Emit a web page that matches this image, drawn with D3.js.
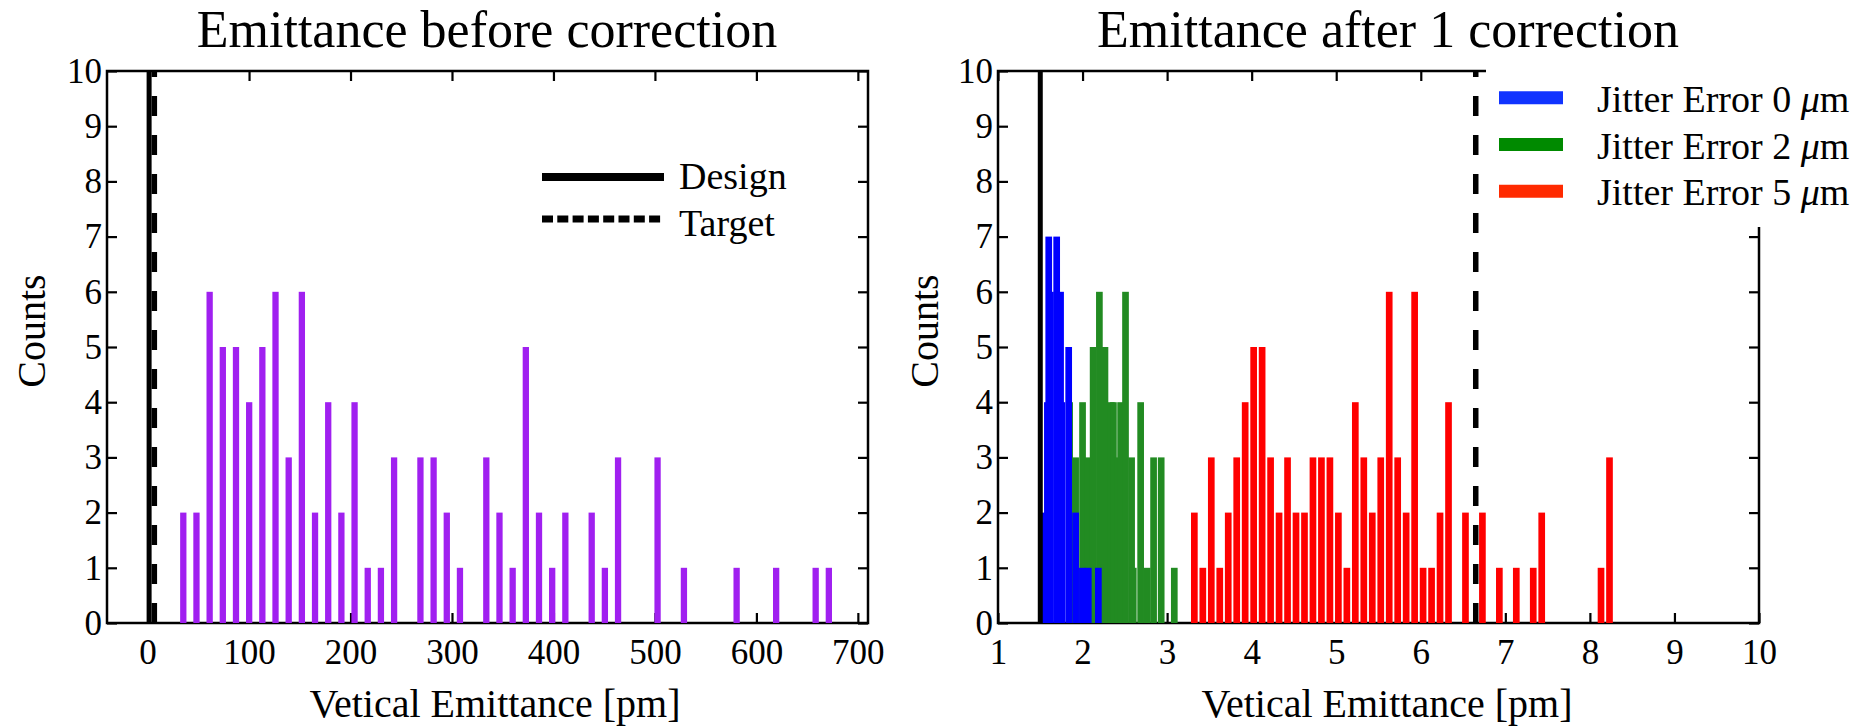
<!DOCTYPE html>
<html>
<head>
<meta charset="utf-8">
<script src="https://cdn.jsdelivr.net/npm/d3@7"></script>
<style>
  body { margin: 0; background: #fff; }
  text { font-family: "Liberation Serif", "Times New Roman", serif; fill: #000; }
</style>
</head>
<body>
<div id="chart"></div>
<script>
// ---- data ----
// left panel: 50-bin histogram before correction [pm]
const beforeRange = [28.7, 677.9];
const beforeCounts = [2, 2, 6, 5, 5, 4, 5, 6, 3, 6, 2, 4, 2, 4, 1, 1, 3, 0, 3, 3,
                      2, 1, 0, 3, 2, 1, 5, 2, 1, 2, 0, 2, 1, 3, 0, 0, 3, 0, 1, 0,
                      0, 0, 1, 0, 0, 1, 0, 0, 1, 1];

// right panel: visible bars of the overlapping histograms [pm]
const jitter0Centers = [1.54, 1.584, 1.600, 1.62, 1.694, 1.740, 1.756, 1.836, 1.918, 1.998, 2.068, 2.187];
const jitter0Counts  = [2, 4, 7, 6, 7, 6, 4, 5, 2, 1, 1, 1];

const jitter2Centers = [1.847, 1.918, 2.000, 2.060, 2.125, 2.199, 2.265, 2.340, 2.365, 2.420, 2.450,
                        2.508, 2.580, 2.600, 2.687, 2.765, 2.840, 2.930, 3.085];
const jitter2Counts  = [4, 3, 4, 3, 5, 6, 5, 4, 4, 3, 4, 6, 3, 1, 4, 1, 3, 3, 1];

const jitter5Range = [3.272, 8.282];
const jitter5Counts = [2, 1, 3, 1, 2, 3, 4, 5, 5, 3, 2, 3, 2, 2, 3, 3, 3, 2, 1, 4,
                       3, 2, 3, 6, 3, 2, 6, 1, 1, 2, 4, 0, 2, 0, 2, 0, 1, 0, 1, 0,
                       1, 2, 0, 0, 0, 0, 0, 0, 1, 3];

const designEmit = 1.5;
const targetEmit = 6.65;

const beforeTicks = [0, 100, 200, 300, 400, 500, 600, 700];
const afterTicks = [1, 2, 3, 4, 5, 6, 7, 8, 9, 10];
const countTicks = [0, 1, 2, 3, 4, 5, 6, 7, 8, 9, 10];

const legendJitter = ["Jitter Error 0 ", "Jitter Error 2 ", "Jitter Error 5 "];
const legendColors = ["#1033ff", "#008a00", "#ff2a00"];

// ---- drawing ----
const svg = d3.select('#chart')
    .append('svg')
    .attr('width', 1866)
    .attr('height', 726);

const plotTop = 71, plotBottom = 623;

function binCenters(range, n) {
    const w = (range[1] - range[0]) / n;
    return d3.range(n).map(i => range[0] + (i + 0.5) * w);
}

function drawPanel(opts) {
    const x = d3.scaleLinear().domain(opts.domain).range(opts.range);
    const y = d3.scaleLinear().domain([0, 10]).range([plotBottom, plotTop]);
    const g = svg.append('g');

    // ticks pointing inwards on all four sides
    g.append('g')
        .attr('transform', `translate(0, ${plotBottom})`)
        .call(d3.axisBottom(x).tickValues(opts.ticks).tickSize(-10).tickPadding(16).tickSizeOuter(0))
        .call(a => a.select('.domain').remove())
        .call(a => a.selectAll('line').attr('stroke-width', 2.2))
        .call(a => a.selectAll('text').style('font-size', '35px'));

    g.append('g')
        .attr('transform', `translate(0, ${plotTop})`)
        .call(d3.axisTop(x).tickValues(opts.ticks).tickSize(-10).tickFormat(''))
        .call(a => a.select('.domain').remove())
        .call(a => a.selectAll('line').attr('stroke-width', 2.2));

    g.append('g')
        .attr('transform', `translate(${opts.range[0]}, 0)`)
        .call(d3.axisLeft(y).tickValues(countTicks).tickSize(-10).tickPadding(5))
        .call(a => a.select('.domain').remove())
        .call(a => a.selectAll('line').attr('stroke-width', 2.2))
        .call(a => a.selectAll('text').style('font-size', '35px'));

    g.append('g')
        .attr('transform', `translate(${opts.range[1]}, 0)`)
        .call(d3.axisRight(y).tickValues(countTicks).tickSize(-10).tickFormat(''))
        .call(a => a.select('.domain').remove())
        .call(a => a.selectAll('line').attr('stroke-width', 2.2));

    // axis text: drop d3's default sans-serif so the page font applies
    g.selectAll('g').attr('font-family', null);

    // frame
    g.append('rect')
        .attr('x', opts.range[0])
        .attr('y', plotTop)
        .attr('width', opts.range[1] - opts.range[0])
        .attr('height', plotBottom - plotTop)
        .attr('fill', 'none')
        .attr('stroke', '#000')
        .attr('stroke-width', 2.5);

    // bars
    opts.series.forEach(s => {
        g.append('g').selectAll('rect')
            .data(d3.zip(s.centers, s.counts).filter(d => d[1] > 0))
            .join('rect')
            .attr('x', d => x(d[0] - s.width / 2))
            .attr('width', d => x(d[0] + s.width / 2) - x(d[0] - s.width / 2))
            .attr('y', d => y(d[1]))
            .attr('height', d => y(0) - y(d[1]))
            .attr('fill', s.color);
    });

    // design / target lines
    const vline = d3.line().x(d => x(d[0])).y(d => y(d[1]));
    g.append('path')
        .attr('d', vline([[targetEmit, 0], [targetEmit, 10]]))
        .attr('stroke', '#000')
        .attr('stroke-width', 5.5)
        .attr('stroke-dasharray', '20,19')
        .attr('fill', 'none');
    g.append('path')
        .attr('d', vline([[designEmit, 0], [designEmit, 10]]))
        .attr('stroke', '#000')
        .attr('stroke-width', 5)
        .attr('fill', 'none');

    // title and labels
    svg.append('text')
        .attr('x', opts.titleX)
        .attr('y', 47)
        .attr('text-anchor', 'middle')
        .style('font-size', '52px')
        .text(opts.title);

    svg.append('text')
        .attr('x', opts.xLabelX)
        .attr('y', 717)
        .attr('text-anchor', 'middle')
        .style('font-size', '40px')
        .text('Vetical Emittance [pm]');

    svg.append('text')
        .attr('transform', `translate(${opts.yLabelX}, 331) rotate(-90)`)
        .attr('text-anchor', 'middle')
        .style('font-size', '40px')
        .text('Counts');

    return g;
}

// left panel
drawPanel({
    domain: [-40, 710],
    range: [107, 868],
    ticks: beforeTicks,
    title: 'Emittance before correction',
    titleX: 487,
    xLabelX: 495,
    yLabelX: 45,
    series: [
        { centers: binCenters(beforeRange, beforeCounts.length), counts: beforeCounts, width: 6.2, color: '#a020f0' }
    ]
});

// left legend
const legL = svg.append('g');
legL.append('line')
    .attr('x1', 542).attr('x2', 664).attr('y1', 177).attr('y2', 177)
    .attr('stroke', '#000').attr('stroke-width', 8);
legL.append('line')
    .attr('x1', 542).attr('x2', 664).attr('y1', 219).attr('y2', 219)
    .attr('stroke', '#000').attr('stroke-width', 7).attr('stroke-dasharray', '11,4.3');
legL.append('text').attr('x', 679).attr('y', 189).style('font-size', '38px').text('Design');
legL.append('text').attr('x', 679).attr('y', 236).style('font-size', '38px').text('Target');

// right panel
drawPanel({
    domain: [1, 10],
    range: [998, 1759],
    ticks: afterTicks,
    title: 'Emittance after 1 correction',
    titleX: 1388,
    xLabelX: 1387,
    yLabelX: 938,
    series: [
        { centers: jitter2Centers, counts: jitter2Counts, width: 0.079, color: '#228b22' },
        { centers: jitter0Centers, counts: jitter0Counts, width: 0.079, color: '#0000ff' },
        { centers: binCenters(jitter5Range, jitter5Counts.length), counts: jitter5Counts, width: 0.079, color: '#ff0000' }
    ]
});

// right legend (white box over the frame corner)
const legR = svg.append('g');
legR.append('rect')
    .attr('x', 1486).attr('y', 62).attr('width', 380).attr('height', 165)
    .attr('fill', '#fff');
legendJitter.forEach((label, i) => {
    const cy = 97.7 + i * 46.8;
    legR.append('line')
        .attr('x1', 1499).attr('x2', 1563).attr('y1', cy).attr('y2', cy)
        .attr('stroke', legendColors[i]).attr('stroke-width', 13);
    const t = legR.append('text')
        .attr('x', 1597).attr('y', cy + 14)
        .style('font-size', '38px');
    t.append('tspan').text(label);
    t.append('tspan').style('font-style', 'italic').text('μ');
    t.append('tspan').text('m');
});
</script>
</body>
</html>
